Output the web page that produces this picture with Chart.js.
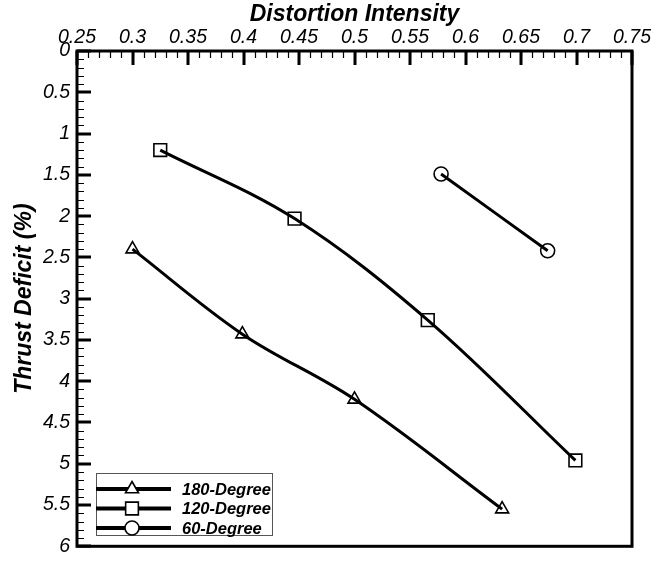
<!DOCTYPE html>
<html>
<head>
<meta charset="utf-8">
<script src="https://cdn.jsdelivr.net/npm/chart.js@4.4.0/dist/chart.umd.min.js"></script>
<style>
  html, body { margin: 0; padding: 0; background: #fff; }
  #wrap { width: 655px; height: 565px; }
</style>
</head>
<body>
<div id="wrap"><canvas id="thrustChart"></canvas></div>
<script>
// values
const labels = ['180-Degree', '120-Degree', '60-Degree'];
const markers = ['triangle', 'rect', 'circle'];

const deg180X = [0.300, 0.399, 0.500, 0.633];
const deg180Y = [2.40, 3.43, 4.22, 5.55];

const deg120X = [0.325, 0.446, 0.566, 0.699];
const deg120Y = [1.20, 2.03, 3.26, 4.96];

const deg60X = [0.578, 0.674];
const deg60Y = [1.49, 2.42];

const xTicks = [0.25, 0.3, 0.35, 0.4, 0.45, 0.5, 0.55, 0.6, 0.65, 0.7, 0.75];
const yTicks = [0, 0.5, 1, 1.5, 2, 2.5, 3, 3.5, 4, 4.5, 5, 5.5, 6];

function pairs(xs, ys) {
    return xs.map((x, i) => ({ x: x, y: ys[i] }));
}

const seriesData = [pairs(deg180X, deg180Y), pairs(deg120X, deg120Y), pairs(deg60X, deg60Y)];
const markerRadius = [7.5, 9, 7];

const datasets = seriesData.map((d, i) => ({
    label: labels[i],
    data: d,
    showLine: true,
    borderColor: '#000',
    borderWidth: 3,
    tension: 0.35,
    pointStyle: markers[i],
    pointRadius: markerRadius[i],
    pointBorderWidth: 1.6,
    pointBorderColor: '#000',
    pointBackgroundColor: 'rgba(0,0,0,0)'
}));

// box round the plot area plus inward major / minor ticks
const framePlugin = {
    id: 'frame',
    afterDatasetsDraw(chart) {
        const ctx = chart.ctx;
        const a = chart.chartArea;
        const xs = chart.scales.x;
        const ys = chart.scales.y;
        ctx.save();
        ctx.strokeStyle = '#000';
        ctx.lineCap = 'butt';

        // minor ticks
        ctx.lineWidth = 1.2;
        ctx.beginPath();
        for (let v = 0.25; v <= 0.7501; v += 0.01) {
            const px = Math.round(xs.getPixelForValue(v)) + 0.5;
            ctx.moveTo(px, a.top);
            ctx.lineTo(px, a.top + 7);
        }
        for (let v = 0; v <= 6.001; v += 0.1) {
            const py = Math.round(ys.getPixelForValue(v)) + 0.5;
            ctx.moveTo(a.left, py);
            ctx.lineTo(a.left + 7, py);
        }
        ctx.stroke();

        // major ticks
        ctx.lineWidth = 3;
        ctx.beginPath();
        xTicks.forEach(v => {
            const px = Math.round(xs.getPixelForValue(v));
            ctx.moveTo(px, a.top);
            ctx.lineTo(px, a.top + 14);
        });
        yTicks.forEach(v => {
            const py = Math.round(ys.getPixelForValue(v));
            ctx.moveTo(a.left, py);
            ctx.lineTo(a.left + 14, py);
        });
        ctx.stroke();

        ctx.lineWidth = 3;
        ctx.strokeRect(a.left, a.top, a.right - a.left, a.bottom - a.top);
        ctx.restore();
    }
};

// legend drawn inside the plot, lower left, line with marker
const boxLegendPlugin = {
    id: 'boxLegend',
    afterDraw(chart) {
        const ctx = chart.ctx;
        const bx = 96, by = 473, bw = 176, bh = 62;
        ctx.save();
        ctx.fillStyle = '#fff';
        ctx.fillRect(bx, by, bw, bh);
        ctx.strokeStyle = '#555';
        ctx.lineWidth = 1;
        ctx.strokeRect(bx + 0.5, by + 0.5, bw, bh);

        ctx.font = 'italic bold 16.5px "Liberation Sans", Arial, sans-serif';
        ctx.textBaseline = 'middle';
        ctx.textAlign = 'left';
        chart.data.datasets.forEach((ds, i) => {
            const ry = 489 + i * 19.5;
            ctx.strokeStyle = '#000';
            ctx.lineWidth = 4;
            ctx.beginPath();
            ctx.moveTo(96, ry);
            ctx.lineTo(171, ry);
            ctx.stroke();
            ctx.lineWidth = 1.6;
            ctx.fillStyle = '#fff';
            Chart.helpers.drawPoint(ctx, {
                pointStyle: ds.pointStyle,
                radius: ds.pointRadius,
                borderWidth: 1.6,
                rotation: 0
            }, 132, ry);
            ctx.fillStyle = '#000';
            ctx.fillText(ds.label, 182, ry + 1);
        });
        ctx.restore();
    }
};

const tickFont = { family: '"Liberation Sans", Arial, sans-serif', size: 19.5, style: 'italic' };
const titleFont = { family: '"Liberation Sans", Arial, sans-serif', size: 23, style: 'italic', weight: 'bold' };

new Chart(document.getElementById('thrustChart'), {
    type: 'scatter',
    data: { datasets: datasets },
    options: {
        responsive: true,
        maintainAspectRatio: false,
        animation: false,
        layout: { padding: { left: 0, top: 0, right: 23, bottom: 8 } },
        plugins: {
            legend: { display: false },
            tooltip: { enabled: false }
        },
        scales: {
            x: {
                type: 'linear',
                position: 'top',
                min: 0.25,
                max: 0.75,
                afterBuildTicks(scale) {
                    scale.ticks = xTicks.map(v => ({ value: v }));
                },
                afterFit(scale) { scale.height = 51; },
                grid: { display: false, drawTicks: false },
                border: { display: false },
                ticks: {
                    color: '#000',
                    font: tickFont,
                    padding: 2,
                    maxRotation: 0,
                    autoSkip: false,
                    callback: v => String(Math.round(v * 100) / 100)
                },
                title: {
                    display: true,
                    text: 'Distortion Intensity',
                    color: '#000',
                    font: titleFont,
                    padding: { top: 1, bottom: 0 }
                }
            },
            y: {
                type: 'linear',
                reverse: true,
                min: 0,
                max: 6,
                afterBuildTicks(scale) {
                    scale.ticks = yTicks.map(v => ({ value: v }));
                },
                afterFit(scale) { scale.width = 77; },
                grid: { display: false, drawTicks: false },
                border: { display: false },
                ticks: {
                    color: '#000',
                    font: tickFont,
                    padding: 7,
                    autoSkip: false,
                    callback: v => String(v)
                },
                title: {
                    display: true,
                    text: 'Thrust Deficit (%)',
                    color: '#000',
                    font: titleFont,
                    padding: { top: 11, bottom: 0 }
                }
            }
        }
    },
    plugins: [framePlugin, boxLegendPlugin]
});
</script>
</body>
</html>
